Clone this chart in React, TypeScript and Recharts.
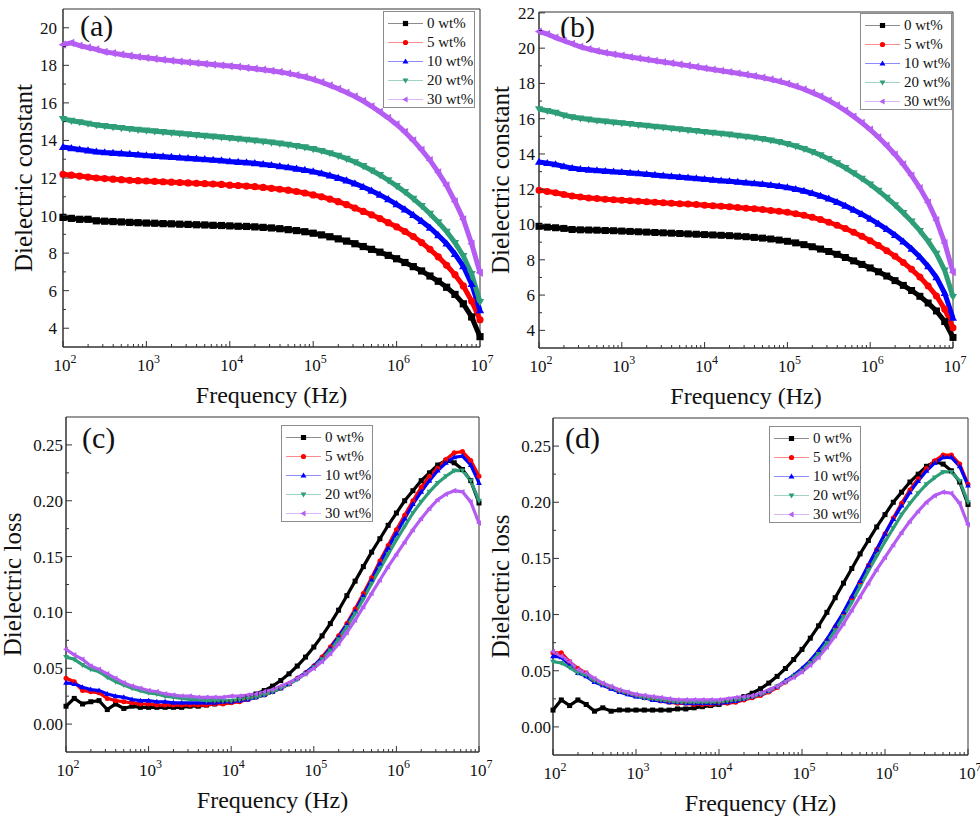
import { LineChart, Line, XAxis, YAxis, ReferenceArea, Legend, Label } from 'recharts';

const FONT = '"Liberation Serif", "Times New Roman", serif';
const AXIS = '#333333';
const INK = '#111111';

// frequency points as log10(f / Hz)
const logFreq = [
  2.0, 2.1, 2.2, 2.3, 2.4, 2.5, 2.6, 2.7, 2.8, 2.9, 3.0,
  3.1, 3.2, 3.3, 3.4, 3.5, 3.6, 3.7, 3.8, 3.9, 4.0,
  4.1, 4.2, 4.3, 4.4, 4.5, 4.6, 4.7, 4.8, 4.9, 5.0,
  5.1, 5.2, 5.3, 5.4, 5.5, 5.6, 5.7, 5.8, 5.9, 6.0,
  6.1, 6.2, 6.3, 6.4, 6.5, 6.6, 6.7, 6.8, 6.9, 7.0,
];

const seriesLabels = ['0 wt%', '5 wt%', '10 wt%', '20 wt%', '30 wt%'];
const seriesColors = ['#000000', '#ff0000', '#0000ff', '#2e9e78', '#b55cf2'];
const seriesShapes = ['square', 'circle', 'up', 'down', 'left'];

const decades = [2, 3, 4, 5, 6, 7];
const minorSteps = [2, 3, 4, 5, 6, 7, 8, 9];

const epsMajorA = [4, 6, 8, 10, 12, 14, 16, 18, 20];
const epsMinorA = [5, 7, 9, 11, 13, 15, 17, 19];
const epsMajorB = [4, 6, 8, 10, 12, 14, 16, 18, 20, 22];
const epsMinorB = [5, 7, 9, 11, 13, 15, 17, 19, 21];
const lossMajor = [0, 0.05, 0.1, 0.15, 0.2, 0.25];
const lossMinor = [0.025, 0.075, 0.125, 0.175, 0.225];

// (a) dielectric constant
const epsA0 = [
  9.9, 9.85, 9.8, 9.8, 9.72, 9.7, 9.68, 9.66, 9.64, 9.62, 9.6,
  9.59, 9.57, 9.56, 9.54, 9.53, 9.51, 9.5, 9.48, 9.47, 9.45,
  9.43, 9.42, 9.4, 9.37, 9.34, 9.3, 9.25, 9.2, 9.14, 9.06,
  8.97, 8.87, 8.76, 8.64, 8.5, 8.35, 8.2, 8.05, 7.88, 7.7,
  7.5, 7.28, 7.05, 6.78, 6.5, 6.18, 5.8, 5.3, 4.6, 3.55,
];
const epsA5 = [
  12.2, 12.15, 12.1, 12.05, 12.0, 11.97, 11.94, 11.91, 11.88, 11.86, 11.84,
  11.82, 11.8, 11.78, 11.76, 11.74, 11.72, 11.7, 11.68, 11.66, 11.62,
  11.6, 11.57, 11.54, 11.5, 11.45, 11.4, 11.35, 11.28, 11.2, 11.1,
  11.0, 10.88, 10.74, 10.58, 10.4, 10.22, 10.04, 9.84, 9.62, 9.4,
  9.15, 8.88, 8.56, 8.2, 7.8, 7.35, 6.85, 6.25, 5.45, 4.45,
];
const epsA10 = [
  13.65, 13.58, 13.52, 13.46, 13.4, 13.36, 13.33, 13.3, 13.27, 13.24, 13.2,
  13.17, 13.14, 13.11, 13.08, 13.05, 13.02, 12.99, 12.96, 12.93, 12.88,
  12.85, 12.82, 12.78, 12.73, 12.68, 12.62, 12.56, 12.49, 12.42, 12.34,
  12.24, 12.13, 12.0, 11.86, 11.7, 11.52, 11.32, 11.1, 10.86, 10.6,
  10.32, 10.02, 9.7, 9.35, 8.95, 8.5, 7.95, 7.3, 6.35, 4.95,
];
const epsA20 = [
  15.15, 15.05, 14.98, 14.9, 14.82, 14.77, 14.72, 14.67, 14.62, 14.57, 14.53,
  14.49, 14.45, 14.41, 14.37, 14.33, 14.29, 14.25, 14.21, 14.17, 14.13,
  14.09, 14.05, 14.0, 13.95, 13.9, 13.84, 13.78, 13.71, 13.64, 13.55,
  13.45, 13.33, 13.19, 13.03, 12.85, 12.64, 12.41, 12.16, 11.88, 11.58,
  11.26, 10.9, 10.52, 10.1, 9.65, 9.15, 8.55, 7.85, 6.9, 5.4,
];
const epsA30 = [
  19.1, 19.2, 19.05, 18.95, 18.85, 18.72, 18.65, 18.58, 18.51, 18.45, 18.4,
  18.35, 18.3, 18.25, 18.2, 18.16, 18.12, 18.08, 18.04, 18.0, 17.96,
  17.92, 17.87, 17.82, 17.77, 17.71, 17.65, 17.57, 17.48, 17.38, 17.25,
  17.1, 16.93, 16.75, 16.55, 16.34, 16.1, 15.82, 15.52, 15.2, 14.85,
  14.45, 14.0, 13.5, 12.95, 12.3, 11.6, 10.75, 9.8, 8.5, 6.95,
];

// (b) dielectric constant
const epsB0 = [
  9.9, 9.85, 9.82, 9.78, 9.72, 9.7, 9.69, 9.68, 9.66, 9.65, 9.63,
  9.61, 9.59, 9.57, 9.55, 9.53, 9.51, 9.49, 9.47, 9.45, 9.43,
  9.41, 9.39, 9.37, 9.34, 9.31, 9.27, 9.23, 9.18, 9.12, 9.05,
  8.96, 8.86, 8.74, 8.61, 8.47, 8.31, 8.13, 7.94, 7.74, 7.54,
  7.32, 7.08, 6.82, 6.55, 6.26, 5.93, 5.55, 5.1, 4.5, 3.6,
];
const epsB5 = [
  11.95, 11.88, 11.8, 11.7, 11.62, 11.56, 11.51, 11.47, 11.44, 11.41, 11.38,
  11.35, 11.32, 11.29, 11.26, 11.23, 11.21, 11.18, 11.16, 11.13, 11.1,
  11.07, 11.04, 11.01, 10.97, 10.93, 10.89, 10.85, 10.8, 10.75, 10.69,
  10.61, 10.52, 10.41, 10.28, 10.13, 9.96, 9.77, 9.56, 9.33, 9.08,
  8.81, 8.52, 8.2, 7.85, 7.46, 7.02, 6.52, 5.95, 5.2, 4.15,
];
const epsB10 = [
  13.55, 13.48, 13.4, 13.3, 13.2, 13.14, 13.1, 13.06, 13.03, 13.0, 12.97,
  12.93, 12.89, 12.85, 12.81, 12.77, 12.73, 12.69, 12.65, 12.61, 12.57,
  12.53, 12.49, 12.45, 12.41, 12.37, 12.33, 12.28, 12.23, 12.17, 12.1,
  12.01, 11.9, 11.77, 11.62, 11.46, 11.27, 11.06, 10.83, 10.58, 10.32,
  10.04, 9.73, 9.4, 9.03, 8.62, 8.16, 7.63, 7.0, 6.1, 4.7,
];
const epsB20 = [
  16.55, 16.45, 16.35, 16.2, 16.1, 16.02, 15.96, 15.9, 15.85, 15.8, 15.76,
  15.71, 15.66, 15.61, 15.56, 15.51, 15.46, 15.41, 15.36, 15.31, 15.26,
  15.21, 15.16, 15.11, 15.05, 14.99, 14.93, 14.86, 14.78, 14.69, 14.58,
  14.45, 14.3, 14.13, 13.94, 13.72, 13.48, 13.21, 12.92, 12.61, 12.28,
  11.92, 11.53, 11.11, 10.66, 10.18, 9.65, 9.05, 8.35, 7.4, 5.9,
];
const epsB30 = [
  20.95, 20.8, 20.6, 20.42, 20.25, 20.08, 19.95, 19.84, 19.74, 19.66, 19.58,
  19.5, 19.43, 19.36, 19.29, 19.22, 19.15, 19.08, 19.01, 18.94, 18.86,
  18.79, 18.72, 18.65, 18.58, 18.5, 18.42, 18.33, 18.23, 18.12, 17.99,
  17.84, 17.67, 17.48, 17.27, 17.03, 16.76, 16.46, 16.13, 15.77, 15.38,
  14.95, 14.48, 13.97, 13.41, 12.78, 12.07, 11.25, 10.25, 8.95, 7.3,
];

// (c) dielectric loss
const lossC0 = [
  0.016, 0.023, 0.018, 0.02, 0.021, 0.013, 0.018, 0.014, 0.016, 0.015, 0.015,
  0.015, 0.015, 0.015, 0.015, 0.016, 0.016, 0.017, 0.018, 0.019, 0.02,
  0.022, 0.024, 0.027, 0.03, 0.034, 0.039, 0.045, 0.052, 0.06, 0.069,
  0.079, 0.09, 0.102, 0.115, 0.128, 0.141, 0.154, 0.166, 0.178, 0.189,
  0.2, 0.209, 0.218, 0.225, 0.232, 0.236, 0.234, 0.228, 0.218, 0.198,
];
const lossC5 = [
  0.041, 0.038, 0.03, 0.029, 0.028, 0.023, 0.021, 0.02, 0.019, 0.018, 0.018,
  0.017, 0.017, 0.017, 0.017, 0.017, 0.017, 0.017, 0.018, 0.018, 0.019,
  0.02, 0.022, 0.024, 0.026, 0.029, 0.032, 0.036, 0.041, 0.046, 0.052,
  0.06, 0.069, 0.079, 0.09, 0.103, 0.117, 0.131, 0.146, 0.16, 0.174,
  0.187, 0.2, 0.212, 0.222, 0.229, 0.237, 0.243, 0.244, 0.236, 0.222,
];
const lossC10 = [
  0.037, 0.036, 0.033, 0.031, 0.03, 0.027, 0.025, 0.024, 0.022, 0.021, 0.021,
  0.02, 0.02, 0.019, 0.019, 0.019, 0.019, 0.019, 0.019, 0.02, 0.02,
  0.021, 0.022, 0.024, 0.026, 0.029, 0.032, 0.036, 0.041, 0.046, 0.052,
  0.059, 0.068, 0.078, 0.089, 0.101, 0.115, 0.129, 0.144, 0.158, 0.171,
  0.184, 0.197, 0.208, 0.218, 0.227, 0.234, 0.239, 0.24, 0.232, 0.216,
];
const lossC20 = [
  0.06, 0.058, 0.053, 0.049, 0.047, 0.042, 0.038, 0.035, 0.032, 0.03, 0.028,
  0.027, 0.025, 0.024, 0.023, 0.022, 0.022, 0.021, 0.021, 0.021, 0.021,
  0.022, 0.023, 0.024, 0.026, 0.029, 0.032, 0.036, 0.04, 0.045, 0.051,
  0.058, 0.066, 0.076, 0.087, 0.099, 0.112, 0.126, 0.139, 0.152, 0.165,
  0.177, 0.189, 0.199, 0.208, 0.216, 0.222, 0.227, 0.227, 0.218, 0.2,
];
const lossC30 = [
  0.067, 0.062, 0.058, 0.052, 0.049, 0.045, 0.041, 0.037, 0.034, 0.032, 0.03,
  0.029, 0.027, 0.026, 0.025, 0.025, 0.024, 0.024, 0.024, 0.024, 0.025,
  0.025, 0.026, 0.027, 0.029, 0.031, 0.034, 0.037, 0.041, 0.045, 0.05,
  0.056, 0.063, 0.072, 0.082, 0.093, 0.105, 0.117, 0.129, 0.141, 0.152,
  0.163, 0.174, 0.184, 0.193, 0.201, 0.206, 0.209, 0.208, 0.199, 0.18,
];

// (d) dielectric loss
const lossD0 = [
  0.015, 0.024, 0.019, 0.024, 0.02, 0.014, 0.017, 0.014, 0.015, 0.015, 0.015,
  0.015, 0.015, 0.015, 0.015, 0.016, 0.016, 0.017, 0.018, 0.019, 0.02,
  0.022, 0.024, 0.027, 0.03, 0.034, 0.039, 0.045, 0.052, 0.06, 0.069,
  0.079, 0.09, 0.102, 0.115, 0.128, 0.141, 0.154, 0.166, 0.178, 0.189,
  0.2, 0.209, 0.218, 0.225, 0.232, 0.236, 0.234, 0.228, 0.218, 0.198,
];
const lossD5 = [
  0.066, 0.066, 0.058, 0.052, 0.048, 0.042, 0.038, 0.035, 0.032, 0.03, 0.028,
  0.026, 0.025, 0.023, 0.022, 0.021, 0.021, 0.02, 0.02, 0.02, 0.021,
  0.021, 0.022, 0.024, 0.026, 0.028, 0.031, 0.035, 0.04, 0.045, 0.051,
  0.058, 0.067, 0.077, 0.089, 0.101, 0.115, 0.129, 0.144, 0.158, 0.172,
  0.186, 0.199, 0.211, 0.221, 0.23, 0.237, 0.242, 0.242, 0.234, 0.216,
];
const lossD10 = [
  0.063, 0.062, 0.055, 0.048, 0.045, 0.04, 0.037, 0.034, 0.031, 0.029, 0.027,
  0.026, 0.024, 0.023, 0.022, 0.022, 0.021, 0.021, 0.021, 0.021, 0.021,
  0.022, 0.023, 0.025, 0.027, 0.029, 0.032, 0.036, 0.041, 0.046, 0.052,
  0.059, 0.068, 0.078, 0.09, 0.102, 0.116, 0.13, 0.144, 0.158, 0.172,
  0.185, 0.197, 0.209, 0.219, 0.228, 0.235, 0.24, 0.24, 0.232, 0.215,
];
const lossD20 = [
  0.058, 0.057, 0.053, 0.048, 0.046, 0.041, 0.038, 0.035, 0.032, 0.03, 0.028,
  0.026, 0.025, 0.024, 0.023, 0.022, 0.022, 0.022, 0.022, 0.022, 0.022,
  0.023, 0.024, 0.025, 0.027, 0.029, 0.032, 0.036, 0.04, 0.045, 0.05,
  0.057, 0.065, 0.075, 0.086, 0.098, 0.111, 0.125, 0.139, 0.152, 0.165,
  0.177, 0.189, 0.199, 0.208, 0.216, 0.222, 0.227, 0.227, 0.219, 0.2,
];
const lossD30 = [
  0.067, 0.063, 0.058, 0.051, 0.048, 0.043, 0.039, 0.036, 0.033, 0.031, 0.029,
  0.028, 0.027, 0.026, 0.025, 0.024, 0.024, 0.024, 0.024, 0.024, 0.024,
  0.025, 0.026, 0.027, 0.028, 0.03, 0.033, 0.036, 0.04, 0.044, 0.049,
  0.055, 0.062, 0.071, 0.081, 0.092, 0.104, 0.116, 0.128, 0.14, 0.151,
  0.162, 0.173, 0.183, 0.192, 0.2, 0.206, 0.209, 0.208, 0.199, 0.18,
];

const freqTicks = [
  ...decades,
  ...decades.slice(0, -1).flatMap((d) => minorSteps.map((m) => d + Math.log10(m))),
];

function markerPath(shape: string, cx: number, cy: number, r: number) {
  switch (shape) {
    case 'square':
      return `M${cx - r},${cy - r}h${2 * r}v${2 * r}h${-2 * r}Z`;
    case 'circle':
      return `M${cx - r},${cy}a${r},${r} 0 1,0 ${2 * r},0a${r},${r} 0 1,0 ${-2 * r},0Z`;
    case 'up':
      return `M${cx},${cy - 1.2 * r}L${cx + 1.15 * r},${cy + 0.8 * r}L${cx - 1.15 * r},${cy + 0.8 * r}Z`;
    case 'down':
      return `M${cx},${cy + 1.2 * r}L${cx + 1.15 * r},${cy - 0.8 * r}L${cx - 1.15 * r},${cy - 0.8 * r}Z`;
    default:
      return `M${cx - 1.2 * r},${cy}L${cx + 0.8 * r},${cy - 1.15 * r}L${cx + 0.8 * r},${cy + 1.15 * r}Z`;
  }
}

const X_MARGIN = 8;

function FreqTick(props: any) {
  const { x, y, payload } = props;
  const axisY = y - X_MARGIN;
  const v = payload.value;
  const major = Math.abs(v - Math.round(v)) < 1e-6;
  return (
    <g>
      <line x1={x} x2={x} y1={axisY} y2={axisY - (major ? 6 : 3)} stroke={AXIS} />
      {major && (
        <text x={x + 2} y={axisY + 24} textAnchor="middle" fontFamily={FONT} fontSize={17} fill={INK}>
          10<tspan dy={-8} fontSize={12}>{Math.round(v)}</tspan>
        </text>
      )}
    </g>
  );
}

function ValueTick(props: any) {
  const { x, y, payload, gap, majors, decimals } = props;
  const axisX = x + gap;
  const v = payload.value;
  const major = majors.some((m: number) => Math.abs(m - v) < 1e-9);
  return (
    <g>
      <line x1={axisX} x2={axisX + (major ? 6 : 3)} y1={y} y2={y} stroke={AXIS} />
      {major && (
        <text x={x} y={y} dy="0.35em" textAnchor="end" fontFamily={FONT} fontSize={17} fill={INK}>
          {v.toFixed(decimals)}
        </text>
      )}
    </g>
  );
}

function LegendBox() {
  return (
    <div
      style={{
        position: 'relative',
        width: 92,
        height: 97,
        boxSizing: 'border-box',
        border: '1px solid #8c8c8c',
        background: '#ffffff',
        fontFamily: FONT,
        fontSize: 15,
        color: INK,
      }}
    >
      {seriesLabels.map((label, i) => (
        <div
          key={label}
          style={{ position: 'absolute', left: 0, top: 2 + i * 19, height: 19, display: 'flex', alignItems: 'center' }}
        >
          <svg width={43} height={19} style={{ display: 'block' }}>
            <line x1={4} x2={39} y1={9.5} y2={9.5} stroke={seriesColors[i]} strokeOpacity={0.45} strokeWidth={1.2} />
            <path d={markerPath(seriesShapes[i], 21.5, 9.5, 2.6)} fill={seriesColors[i]} />
          </svg>
          <span style={{ lineHeight: '19px', whiteSpace: 'nowrap' }}>{label}</span>
        </div>
      ))}
    </div>
  );
}

type PanelProps = {
  left: number;
  top: number;
  width: number;
  height: number;
  marginTop: number;
  marginRight: number;
  yAxisWidth: number;
  xAxisHeight: number;
  series: number[][];
  yDomain: [number, number];
  yMajor: number[];
  yMinor: number[];
  decimals: number;
  yGap: number;
  yTitle: string;
  yTitleX: number;
  tag: string;
  tagDx: number;
  tagDy: number;
  legendLeft: number;
  legendTop: number;
  markerR: number;
  lineWidth: number;
};

function Panel(p: PanelProps) {
  const rows = logFreq.map((f, i) => {
    const row: Record<string, number> = { f };
    p.series.forEach((s, k) => {
      row[`s${k}`] = s[i];
    });
    return row;
  });

  return (
    <div style={{ position: 'absolute', left: p.left, top: p.top, width: p.width, height: p.height }}>
      <LineChart
        width={p.width}
        height={p.height}
        data={rows}
        margin={{ top: p.marginTop, right: p.marginRight, bottom: 0, left: 0 }}
      >
        <XAxis
          dataKey="f"
          type="number"
          domain={[2, 7]}
          ticks={freqTicks}
          interval={0}
          tickSize={0}
          tickMargin={X_MARGIN}
          tickLine={false}
          tick={<FreqTick />}
          axisLine={{ stroke: AXIS }}
          height={p.xAxisHeight}
        >
          <Label
            content={(lp: any) => {
              const vb = lp.viewBox;
              return (
                <text x={vb.x + vb.width / 2} y={vb.y + 56} textAnchor="middle" fontFamily={FONT} fontSize={24} fill={INK}>
                  Frequency (Hz)
                </text>
              );
            }}
          />
        </XAxis>
        <YAxis
          type="number"
          domain={p.yDomain}
          ticks={[...p.yMajor, ...p.yMinor]}
          interval={0}
          tickSize={0}
          tickMargin={p.yGap}
          tickLine={false}
          tick={<ValueTick gap={p.yGap} majors={p.yMajor} decimals={p.decimals} />}
          axisLine={{ stroke: AXIS }}
          width={p.yAxisWidth}
        >
          <Label
            content={(lp: any) => {
              const vb = lp.viewBox;
              return (
                <text
                  transform={`translate(${vb.x + p.yTitleX},${vb.y + vb.height / 2}) rotate(-90)`}
                  textAnchor="middle"
                  fontFamily={FONT}
                  fontSize={25}
                  fill={INK}
                >
                  {p.yTitle}
                </text>
              );
            }}
          />
        </YAxis>
        <ReferenceArea x1={2} x2={7} y1={p.yDomain[0]} y2={p.yDomain[1]} fill="none" stroke={AXIS} strokeWidth={1}>
          <Label
            content={(lp: any) => {
              const vb = lp.viewBox;
              return (
                <text x={vb.x + p.tagDx} y={vb.y + p.tagDy} fontFamily={FONT} fontSize={30} fill={INK}>
                  {p.tag}
                </text>
              );
            }}
          />
        </ReferenceArea>
        {p.series.map((_, k) => (
          <Line
            key={k}
            dataKey={`s${k}`}
            name={seriesLabels[k]}
            type="linear"
            stroke={seriesColors[k]}
            strokeWidth={p.lineWidth}
            isAnimationActive={false}
            activeDot={false}
            dot={(dp: any) => (
              <path
                key={`d${k}-${dp.index}`}
                d={markerPath(seriesShapes[k], dp.cx, dp.cy, p.markerR)}
                fill={seriesColors[k]}
                stroke="none"
              />
            )}
          />
        ))}
        <Legend
          layout="horizontal"
          verticalAlign="middle"
          align="center"
          content={() => <LegendBox />}
          wrapperStyle={{ left: p.legendLeft, top: p.legendTop, width: 92, height: 97 }}
        />
      </LineChart>
    </div>
  );
}

export default function App() {
  return (
    <div style={{ position: 'absolute', left: 0, top: 0, width: 980, height: 833, background: '#ffffff' }}>
      <style>{'.recharts-surface { overflow: visible; }'}</style>
      <Panel
        left={0} top={0} width={490} height={410}
        marginTop={9} marginRight={10} yAxisWidth={63} xAxisHeight={63}
        series={[epsA0, epsA5, epsA10, epsA20, epsA30]}
        yDomain={[3, 21]} yMajor={epsMajorA} yMinor={epsMinorA} decimals={0}
        yGap={6} yTitle="Dielectric constant" yTitleX={32}
        tag="(a)" tagDx={17} tagDy={27}
        legendLeft={383} legendTop={11}
        markerR={3.6} lineWidth={5}
      />
      <Panel
        left={490} top={0} width={490} height={410}
        marginTop={12} marginRight={27} yAxisWidth={49} xAxisHeight={62}
        series={[epsB0, epsB5, epsB10, epsB20, epsB30]}
        yDomain={[3, 22.05]} yMajor={epsMajorB} yMinor={epsMinorB} decimals={0}
        yGap={4} yTitle="Dielectric constant" yTitleX={19}
        tag="(b)" tagDx={21} tagDy={25}
        legendLeft={370} legendTop={13}
        markerR={3.5} lineWidth={5}
      />
      <Panel
        left={0} top={410} width={490} height={423}
        marginTop={7} marginRight={11} yAxisWidth={66} xAxisHeight={81}
        series={[lossC0, lossC5, lossC10, lossC20, lossC30]}
        yDomain={[-0.025, 0.275]} yMajor={lossMajor} yMinor={lossMinor} decimals={2}
        yGap={3} yTitle="Dielectric loss" yTitleX={21}
        tag="(c)" tagDx={16} tagDy={31}
        legendLeft={281} legendTop={15}
        markerR={2.5} lineWidth={3.2}
      />
      <Panel
        left={490} top={410} width={490} height={423}
        marginTop={8} marginRight={12} yAxisWidth={63} xAxisHeight={78}
        series={[lossD0, lossD5, lossD10, lossD20, lossD30]}
        yDomain={[-0.025, 0.275]} yMajor={lossMajor} yMinor={lossMinor} decimals={2}
        yGap={2} yTitle="Dielectric loss" yTitleX={19}
        tag="(d)" tagDx={12} tagDy={30}
        legendLeft={279} legendTop={16}
        markerR={2.5} lineWidth={3.2}
      />
    </div>
  );
}
